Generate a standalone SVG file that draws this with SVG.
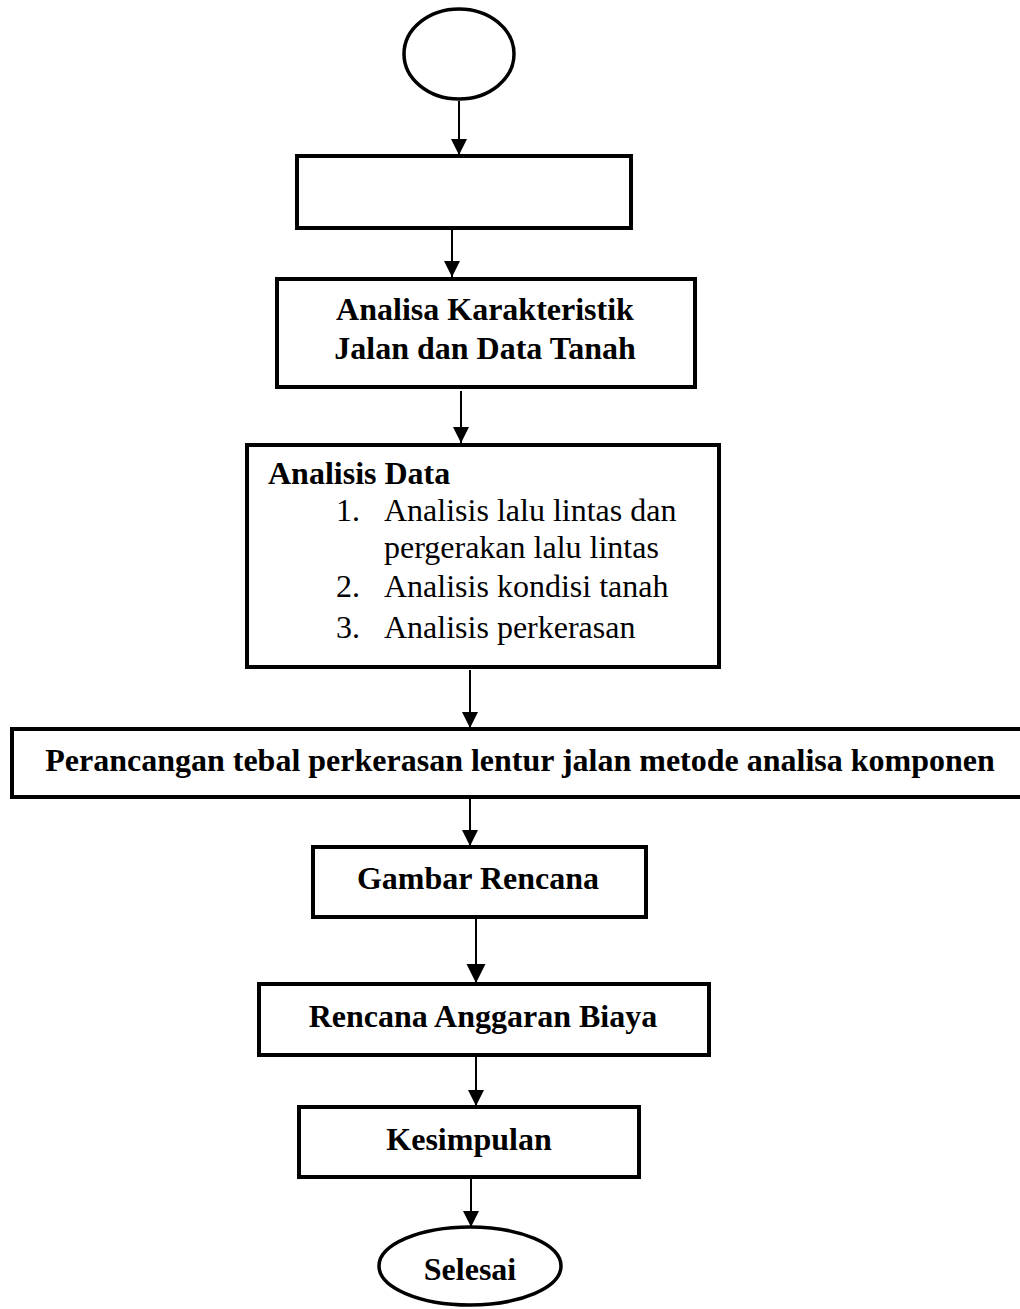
<svg xmlns="http://www.w3.org/2000/svg" width="1020" height="1309" viewBox="0 0 1020 1309">
<style>
.box{fill:#fff;stroke:#000;stroke-width:4}
.term{fill:#fff;stroke:#000;stroke-width:3.5}
.conn{stroke:#000;stroke-width:2;fill:none}
.b{font-family:"Liberation Serif","Times New Roman",serif;font-weight:bold;font-size:32px;fill:#000}
.r{font-family:"Liberation Serif","Times New Roman",serif;font-size:32px;fill:#000}
.c{text-anchor:middle}
</style>
<defs>
<marker id="arr" viewBox="0 0 16 16" refX="16" refY="8" markerWidth="16" markerHeight="17" markerUnits="userSpaceOnUse" orient="auto">
<path d="M0,0 L16,8 L0,16 z" fill="#000"/>
</marker>
<marker id="arrL" viewBox="0 0 16 16" refX="16" refY="8" markerWidth="19" markerHeight="22" markerUnits="userSpaceOnUse" orient="auto">
<path d="M0,0 L16,8 L0,16 z" fill="#000"/>
</marker>
</defs>
<rect width="1020" height="1309" fill="#fff"/>
<g id="start"><ellipse class="term" cx="459" cy="54" rx="55" ry="45"/></g>
<g id="n1"><rect class="box" x="297" y="156" width="334" height="72"/></g>
<g id="n2"><rect class="box" x="277" y="279" width="418" height="108"/>
<text class="b c" x="485" y="320">Analisa Karakteristik</text>
<text class="b c" x="485" y="359">Jalan dan Data Tanah</text></g>
<g id="n3"><rect class="box" x="247" y="445" width="472" height="222"/>
<text class="b" x="268" y="484">Analisis Data</text>
<text class="r" x="336" y="521">1.</text>
<text class="r" x="384" y="521">Analisis lalu lintas dan</text>
<text class="r" x="384" y="558">pergerakan lalu lintas</text>
<text class="r" x="336" y="597">2.</text>
<text class="r" x="384" y="597">Analisis kondisi tanah</text>
<text class="r" x="336" y="638">3.</text>
<text class="r" x="384" y="638">Analisis perkerasan</text></g>
<g id="n4"><rect class="box" x="12" y="729" width="1030" height="68"/>
<text class="b c" x="520" y="771">Perancangan tebal perkerasan lentur jalan metode analisa komponen</text></g>
<g id="n5"><rect class="box" x="313" y="847" width="333" height="70"/>
<text class="b c" x="478" y="889">Gambar Rencana</text></g>
<g id="n6"><rect class="box" x="259" y="984" width="450" height="71"/>
<text class="b c" x="483" y="1027">Rencana Anggaran Biaya</text></g>
<g id="n7"><rect class="box" x="299" y="1107" width="340" height="70"/>
<text class="b c" x="469" y="1150">Kesimpulan</text></g>
<g id="end"><ellipse class="term" cx="470" cy="1266" rx="91" ry="39"/>
<text class="b c" x="470" y="1280">Selesai</text></g>
<g id="connectors">
<line class="conn" x1="459" y1="101" x2="459" y2="155" marker-end="url(#arr)"/>
<line class="conn" x1="452" y1="230" x2="452" y2="277" marker-end="url(#arr)"/>
<line class="conn" x1="461" y1="391" x2="461" y2="443" marker-end="url(#arr)"/>
<line class="conn" x1="470" y1="670" x2="470" y2="728" marker-end="url(#arr)"/>
<line class="conn" x1="470" y1="797" x2="470" y2="846" marker-end="url(#arr)"/>
<line class="conn" x1="476" y1="919" x2="476" y2="983" marker-end="url(#arrL)"/>
<line class="conn" x1="476" y1="1057" x2="476" y2="1106" marker-end="url(#arr)"/>
<line class="conn" x1="471" y1="1179" x2="471" y2="1227" marker-end="url(#arr)"/>
</g>
</svg>
